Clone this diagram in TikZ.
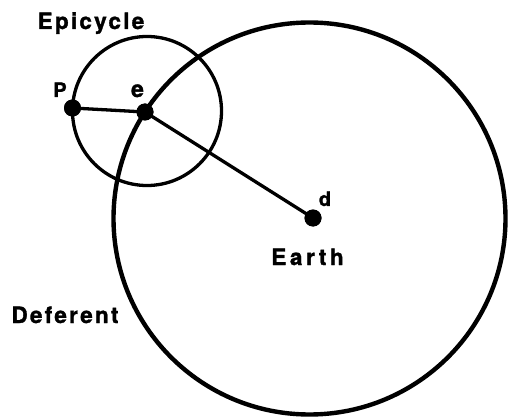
\documentclass[tikz,border=0pt]{standalone}
\usepackage{fontspec}
\setmainfont{TeX Gyre Heros}
\begin{document}
\begin{tikzpicture}[x=1pt,y=-1pt,
  dot/.style={circle,fill=black,inner sep=0pt,minimum size=17pt},
  lbl/.style={font=\bfseries\addfontfeature{LetterSpace=10,FakeBold=1.4}\fontsize{22.5}{26}\selectfont,inner sep=0pt,anchor=base},
  orbit/.style={draw=black,line width=3.3pt},
  bigorbit/.style={draw=black,line width=4.4pt},
  spoke/.style={draw=black,line width=3.3pt}]
\useasboundingbox (0,0) rectangle (509,417);
\coordinate (epc) at (147,111);
\coordinate (defc) at (309.5,218.5);
\draw[orbit] (epc) circle[radius=74.5];
\draw[bigorbit] (defc) circle[radius=196];
\node[dot] (P) at (72.5,108) {};
\node[dot] (e) at (145,112) {};
\node[dot] (d) at (313,218) {};
\draw[spoke] (P.center) -- (e.center);
\draw[spoke] (e.center) -- (d.center);
\node[dot] at (P) {};
\node[dot] at (e) {};
\node[dot] at (d) {};
\node[lbl] (lep) at (91,29) {Epicycle};
\node[lbl] (ldef) at (65,323) {Deferent};
\node[lbl,font=\bfseries\addfontfeature{LetterSpace=16,FakeBold=1.4}\fontsize{22.5}{26}\selectfont] (lea) at (307.5,265) {Earth};
\node[lbl,font=\bfseries\addfontfeature{FakeBold=1.4}\fontsize{20}{24}\selectfont] (lP) at (60,97) {P};
\node[lbl,font=\bfseries\addfontfeature{FakeBold=1.4}\fontsize{23}{26}\selectfont] (le) at (137.5,97) {e};
\node[lbl,font=\bfseries\addfontfeature{FakeBold=1.4}\fontsize{20}{24}\selectfont] (ld) at (325,206) {d};
\end{tikzpicture}
\end{document}
